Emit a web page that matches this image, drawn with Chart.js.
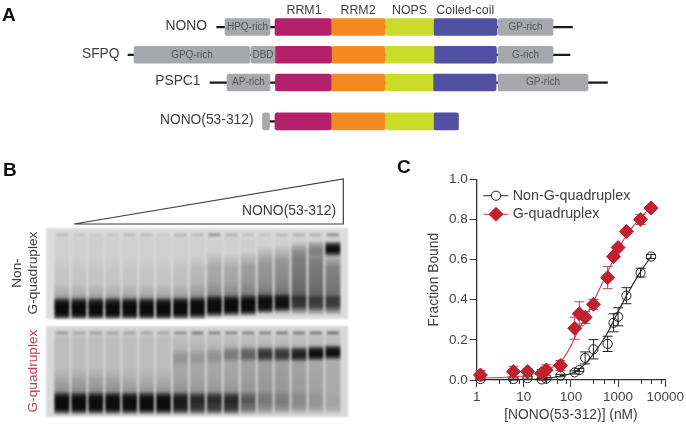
<!DOCTYPE html>
<html>
<head>
<meta charset="utf-8">
<title>NONO(53-312) binding</title>
<script src="https://cdn.jsdelivr.net/npm/chart.js@4/dist/chart.umd.js"></script>
<style>
  html, body { margin: 0; padding: 0; background: #fff; overflow: hidden; }
  #page { position: relative; width: 686px; height: 424px; font-family: "Liberation Sans", Arial, sans-serif; filter: blur(0.4px); }
  canvas { position: absolute; }
  .txt { position: absolute; white-space: nowrap; color: #3d3d3d; line-height: 1; }
  .letter { font-weight: bold; font-size: 19px; color: #111; }
  .rot { transform: translate(-50%, -50%) rotate(-90deg); font-size: 13.7px; }
  #gelTop, #gelBottom { filter: blur(1.2px); }
  #gelTop { background: #dcdcdc; }
  #gelBottom { background: #d8d8d8; }
</style>
</head>
<body>
<div id="page">
  <canvas id="domains" width="686" height="140" style="left:0;top:0"></canvas>
  <canvas id="wedge" width="295" height="60" style="left:60px;top:170px"></canvas>
  <canvas id="gelTop" width="302" height="91" style="left:45.7px;top:227.7px"></canvas>
  <canvas id="gelBottom" width="302" height="91" style="left:45.7px;top:325.7px"></canvas>
  <canvas id="binding" width="286" height="264" style="left:400px;top:160px"></canvas>
  <div class="txt letter" style="left:2px;top:5px">A</div>
  <div class="txt letter" style="left:3px;top:160px">B</div>
  <div class="txt letter" style="left:397px;top:157px">C</div>
  <div class="txt" style="left:242px;top:204px;font-size:13.9px">NONO(53-312)</div>
  <div class="txt rot" style="left:16.7px;top:273px">Non-</div>
  <div class="txt rot" style="left:33px;top:273px">G-quadruplex</div>
  <div class="txt rot" style="left:33px;top:371px;color:#c23a4b">G-quadruplex</div>
</div>
<script>
// panel A: domain spans per protein, in diagram units
const proteins = ['NONO', 'SFPQ', 'PSPC1', 'NONO(53-312)'];
const proteinRows = [1, 2, 3, 4.4];
const backbone = [[216.7, 572.5], [128, 570], [210, 607.5], [269.5, 275]];
const nTerm = [[225, 270], [134, 250], [227, 270], [262.5, 269.5]];
const dbd = [null, [251, 275], null, null];
const rrm1 = [[275, 331], [275, 331.5], [275.5, 331], [275, 331]];
const rrm2 = [[331, 385], [331.5, 385], [331, 385], [331, 385]];
const nops = [[385.5, 433.5], [385.5, 434], [385.5, 433], [385.5, 433.5]];
const coil = [[433.5, 497], [434, 496.5], [433, 496], [433.5, 458.5]];
const cTerm = [[498, 553], [498, 553], [498, 588], null];
const nTermNames = ['HPQ-rich', 'GPQ-rich', 'AP-rich', ''];
const cTermNames = ['GP-rich', 'G-rich', 'GP-rich', ''];
const domainTitles = ['RRM1', 'RRM2', 'NOPS', 'Coiled-coil'];

// panel B: band strengths per lane
const lanes = ['1', '2', '3', '4', '5', '6', '7', '8', '9', '10', '11', '12', '13', '14', '15', '16', '17'];
const topFreePos = [89, 89, 89, 89, 89, 89, 89, 88.5, 88, 86, 85.5, 85, 83, 82, 81, 81, 81];
const topFreeWidth = [13, 13, 13, 13, 13, 13, 13, 13, 13, 12.5, 12, 12, 11, 10, 8, 8, 8];
const topFreeDark = [1, 1, 1, 1, 1, 1, 1, 1, 1, 1, 1, 1, 0.97, 0.95, 0.55, 0.45, 0.5];
const topSmearFrom = [30, 30, 30, 30, 30, 30, 30, 30, 30, 25, 28, 25, 20, 18, 14, 15, 25];
const topSmearDark = [0.07, 0.07, 0.07, 0.07, 0.07, 0.07, 0.07, 0.1, 0.16, 0.26, 0.26, 0.34, 0.38, 0.42, 0.56, 0.56, 0.52];
const topNearDark = [0.55, 0.55, 0.55, 0.55, 0.55, 0.55, 0.55, 0.55, 0.6, 0.55, 0.55, 0.5, 0.45, 0.35, 0.2, 0.1, 0.1];
const topUpperDark = [0, 0, 0, 0, 0, 0, 0, 0, 0, 0, 0, 0, 0, 0, 0.1, 0.25, 1];
const topUpperPos = [23, 23, 23, 23, 23, 23, 23, 23, 23, 23, 23, 23, 23, 23, 25, 23, 23];
const topWellDark = [0.18, 0.1, 0.08, 0.1, 0.18, 0.18, 0.08, 0.2, 0.18, 0.4, 0.22, 0.14, 0.12, 0.2, 0.22, 0.22, 0.45];

const botFreePos = [85, 85, 85, 85, 85, 85, 85, 85, 85, 85, 85, 85, 85, 85, 85, 85, 85];
const botFreeWidth = [13, 13, 13, 13, 13, 13, 13, 13, 13, 13, 13, 13, 14, 14, 14, 14, 14];
const botFreeDark = [1, 1, 1, 1, 1, 1, 1, 0.88, 0.75, 0.72, 0.75, 0.35, 0.15, 0.12, 0.08, 0.05, 0.02];
const botSmearFrom = [45, 45, 45, 45, 45, 45, 45, 15, 15, 15, 15, 15, 15, 15, 15, 15, 15];
const botSmearDark = [0.14, 0.16, 0.16, 0.16, 0.1, 0.1, 0.1, 0.16, 0.16, 0.16, 0.16, 0.2, 0.22, 0.22, 0.2, 0.16, 0.12];
const botNearDark = [0.5, 0.45, 0.45, 0.45, 0.45, 0.45, 0.45, 0.35, 0.3, 0.3, 0.3, 0.2, 0.1, 0.08, 0.05, 0.03, 0];
const botUpperDark = [0, 0, 0, 0, 0, 0, 0, 0.12, 0.1, 0.14, 0.3, 0.45, 0.72, 0.7, 0.88, 1, 1];
const botUpperPos = [31, 31, 31, 31, 31, 31, 31, 35, 35, 33, 31, 31, 31, 31, 31, 30, 29];
const botWellDark = [0.3, 0.25, 0.3, 0.25, 0.25, 0.25, 0.25, 0.4, 0.5, 0.45, 0.45, 0.45, 0.45, 0.5, 0.5, 0.55, 0.6];

// wedge above the gels
const wedgeX = [0, 1, 1, 0];
const wedgeY = [0, 1, 0, 0];

// panel C: binding data
const conc = [1.2, 6, 12, 24, 30, 60, 120, 150, 200, 300, 600, 800, 1000, 1500, 3000, 5000];
const nonG = [0.005, 0.005, 0.01, 0.003, 0.007, 0.022, 0.038, 0.05, 0.11, 0.153, 0.18, 0.285, 0.315, 0.42, 0.535, 0.615];
const nonGErr = [0.006, 0.006, 0.006, 0.006, 0.006, 0.006, 0.008, 0.008, 0.03, 0.048, 0.038, 0.045, 0.045, 0.04, 0.022, 0.01];
const gq = [0.025, 0.042, 0.042, 0.033, 0.05, 0.072, 0.258, 0.33, 0.312, 0.377, 0.51, 0.615, 0.66, 0.74, 0.80, 0.857];
const gqErr = [0.022, 0.026, 0.016, 0.02, 0.026, 0.025, 0.055, 0.06, 0.03, 0.025, 0.055, 0.01, 0.01, 0.01, 0.025, 0.005];
const nonGFitX = [1, 10, 24, 60, 120, 200, 300, 600, 800, 1000, 1500, 3000, 5000];
const nonGFitY = [0.002, 0.003, 0.006, 0.02, 0.04, 0.08, 0.13, 0.235, 0.295, 0.34, 0.42, 0.54, 0.615];
const gqFitX = [1, 10, 30, 60, 100, 120, 200, 300, 500, 800, 1000, 1500, 3000, 5000];
const gqFitY = [0.01, 0.02, 0.05, 0.09, 0.17, 0.21, 0.31, 0.39, 0.5, 0.6, 0.65, 0.72, 0.81, 0.86];
const xMajor = [1, 10, 100, 1000, 10000];
const xMinor = [3, 5, 8, 30, 50, 80, 300, 500, 800, 3000, 5000, 8000];
const legendNames = ['Non-G-quadruplex', 'G-quadruplex'];

const FONT = '"Liberation Sans", Arial, sans-serif';
const RED = '#c0202f';

const span = (list) => list.map((v, i) => v && ({ x: v, y: proteinRows[i] })).filter(Boolean);
const domainBar = (label, list, color, thick) => ({
  label, data: span(list), backgroundColor: color, barThickness: thick || 17, grouped: false,
  borderRadius: thick ? 0 : 2, borderSkipped: false
});

const diagramText = {
  id: 'diagramText',
  afterDatasetsDraw(chart) {
    const { ctx, scales: { x, y } } = chart;
    ctx.save();
    ctx.textBaseline = 'middle';
    // row names, right aligned against each backbone start
    ctx.font = '13.8px ' + FONT;
    ctx.fillStyle = '#3d3d3d';
    ctx.textAlign = 'right';
    const nameEnds = [207, 119.5, 200.5, 253.5];
    proteins.forEach((p, i) => ctx.fillText(p, x.getPixelForValue(nameEnds[i]), y.getPixelForValue(proteinRows[i]) - 1));
    // domain titles above first row
    ctx.font = '12.4px ' + FONT;
    ctx.textAlign = 'center';
    [rrm1[0], rrm2[0], nops[0], coil[0]].forEach((s, i) => {
      ctx.fillText(domainTitles[i], x.getPixelForValue((s[0] + s[1]) / 2) + (i === 0 ? 1 : 0), 10.5);
    });
    // labels in the grey boxes
    ctx.font = '10px ' + FONT;
    ctx.fillStyle = '#55565a';
    nTermNames.forEach((n, i) => {
      if (n) ctx.fillText(n, x.getPixelForValue((nTerm[i][0] + nTerm[i][1]) / 2), y.getPixelForValue(proteinRows[i]));
    });
    cTermNames.forEach((n, i) => {
      if (n) ctx.fillText(n, x.getPixelForValue((cTerm[i][0] + cTerm[i][1]) / 2), y.getPixelForValue(proteinRows[i]));
    });
    ctx.fillText('DBD', x.getPixelForValue((dbd[1][0] + dbd[1][1]) / 2), y.getPixelForValue(proteinRows[1]));
    ctx.restore();
  }
};

new Chart(document.getElementById('domains'), {
  type: 'bar',
  data: {
    datasets: [
      domainBar('N-term', nTerm, '#a7a8ab'),
      domainBar('DBD', dbd, '#a7a8ab'),
      domainBar('RRM1', rrm1, '#b5206a'),
      domainBar('RRM2', rrm2, '#f58a20'),
      domainBar('NOPS', nops, '#cbdb2a'),
      domainBar('Coiled-coil', coil, '#5150a2'),
      domainBar('C-term', cTerm, '#a7a8ab'),
      domainBar('backbone', backbone, '#1a1a1a', 1.6)
    ]
  },
  options: {
    indexAxis: 'y',
    responsive: false,
    animation: false,
    plugins: { legend: { display: false }, tooltip: { enabled: false } },
    scales: {
      x: { type: 'linear', min: 0, max: 686, display: false },
      y: { type: 'linear', min: 0.027, max: 5.07, reverse: true, display: false, offset: false }
    }
  },
  plugins: [diagramText]
});

new Chart(document.getElementById('wedge'), {
  type: 'scatter',
  data: {
    datasets: [{
      data: wedgeX.map((x, i) => ({ x, y: wedgeY[i] })),
      showLine: true, borderColor: '#3f3f3f', borderWidth: 1.2, pointRadius: 0, clip: false
    }]
  },
  options: {
    responsive: false,
    animation: false,
    layout: { padding: { left: 14, right: 11.7, top: 9, bottom: 6 } },
    plugins: { legend: { display: false }, tooltip: { enabled: false } },
    scales: {
      x: { type: 'linear', min: 0, max: 1, display: false },
      y: { type: 'linear', min: 0, max: 1, display: false }
    }
  }
});

// vertical fade for a floating bar; stops are [offset, share of the lane's darkness]
function laneFill(darkness, stops) {
  return (c) => {
    const raw = c.raw;
    const a = darkness[c.dataIndex];
    if (!raw || !a || !c.chart.chartArea) return 'rgba(0,0,0,0)';
    const yS = c.chart.scales.y;
    const y0 = yS.getPixelForValue(raw[0]);
    const y1 = yS.getPixelForValue(raw[1]);
    if (!isFinite(y0) || !isFinite(y1)) return 'rgba(0,0,0,0)';
    const g = c.chart.ctx.createLinearGradient(0, y0, 0, y1);
    stops.forEach(([o, s]) => g.addColorStop(o, 'rgba(12,12,12,' + (a * s) + ')'));
    return g;
  };
}

function gelChart(id, g) {
  const layer = (label, data, darkness, stops, width) => ({
    label, data, backgroundColor: laneFill(darkness, stops), grouped: false,
    barPercentage: width || 0.88, categoryPercentage: 1, borderWidth: 0
  });
  const laneTint = lanes.map(() => g.tint);
  new Chart(document.getElementById(id), {
    type: 'bar',
    data: {
      labels: lanes,
      datasets: [
        layer('free', g.freePos.map((p, i) => [p - g.freeWidth[i], p + g.freeWidth[i]]), g.freeDark,
          [[0, 0], [0.18, 0.8], [0.32, 1], [0.72, 1], [0.88, 0.55], [1, 0]]),
        layer('upper', g.upperPos.map((p) => [p - 9, p + 9]), g.upperDark,
          [[0, 0], [0.25, 0.85], [0.45, 1], [0.65, 1], [0.82, 0.6], [1, 0]]),
        layer('well', lanes.map(() => [5, 10]), g.wellDark, [[0, 0], [0.5, 1], [1, 0]], 0.7),
        layer('near', g.freePos.map((p, i) => [p - g.freeWidth[i] - 16, p]), g.nearDark,
          [[0, 0], [0.45, 0.25], [0.8, 0.85], [1, 1]]),
        layer('smear', g.smearFrom.map((f) => [f, 96]), g.smearDark,
          [[0, 0], [0.25, 0.75], [0.9, 1], [1, 0]]),
        layer('tint', lanes.map(() => [3, 97]), laneTint, [[0, 0.1], [0.12, 1], [0.95, 1], [1, 0]], 0.9)
      ]
    },
    options: {
      responsive: false,
      animation: false,
      layout: { padding: { left: 7.5, right: 6.7 } },
      plugins: { legend: { display: false }, tooltip: { enabled: false } },
      scales: {
        x: { display: false, grid: { display: false } },
        y: { type: 'linear', min: 0, max: 100, reverse: true, display: false }
      }
    }
  });
}

gelChart('gelTop', {
  freePos: topFreePos, freeWidth: topFreeWidth, freeDark: topFreeDark, smearFrom: topSmearFrom,
  smearDark: topSmearDark, nearDark: topNearDark, upperDark: topUpperDark, upperPos: topUpperPos,
  wellDark: topWellDark, tint: 0.06
});
gelChart('gelBottom', {
  freePos: botFreePos, freeWidth: botFreeWidth, freeDark: botFreeDark, smearFrom: botSmearFrom,
  smearDark: botSmearDark, nearDark: botNearDark, upperDark: botUpperDark, upperPos: botUpperPos,
  wellDark: botWellDark, tint: 0.13
});

// error bars, minor ticks and the hand placed legend of panel C
const bindingExtras = {
  id: 'bindingExtras',
  beforeDatasetsDraw(chart) {
    const { ctx, scales: { x, y } } = chart;
    const whiskers = (vals, errs, color) => {
      ctx.strokeStyle = color;
      ctx.lineWidth = 1;
      conc.forEach((c, i) => {
        const px = x.getPixelForValue(c);
        const hi = y.getPixelForValue(vals[i] + errs[i]);
        const lo = y.getPixelForValue(Math.max(vals[i] - errs[i], 0));
        ctx.beginPath();
        ctx.moveTo(px, hi); ctx.lineTo(px, lo);
        ctx.moveTo(px - 5, hi); ctx.lineTo(px + 5, hi);
        ctx.moveTo(px - 5, lo); ctx.lineTo(px + 5, lo);
        ctx.stroke();
      });
    };
    ctx.save();
    whiskers(nonG, nonGErr, '#222');
    whiskers(gq, gqErr, '#c8404f');
    ctx.restore();
  },
  afterDraw(chart) {
    const { ctx, scales: { x, y } } = chart;
    ctx.save();
    ctx.strokeStyle = '#333';
    ctx.lineWidth = 1;
    xMinor.forEach((v) => {
      const px = Math.round(x.getPixelForValue(v)) + 0.5;
      ctx.beginPath();
      ctx.moveTo(px, y.bottom);
      ctx.lineTo(px, y.bottom + 4);
      ctx.stroke();
    });
    const rows = [35.7, 54.3];
    ctx.font = '14.3px ' + FONT;
    ctx.textBaseline = 'middle';
    ctx.fillStyle = '#404040';
    legendNames.forEach((n, i) => ctx.fillText(n, 112.7, rows[i]));
    ctx.strokeStyle = '#222';
    ctx.beginPath(); ctx.moveTo(83.3, rows[0]); ctx.lineTo(108.3, rows[0]); ctx.stroke();
    ctx.strokeStyle = '#c8404f';
    ctx.beginPath(); ctx.moveTo(83.3, rows[1]); ctx.lineTo(108.3, rows[1]); ctx.stroke();
    ctx.strokeStyle = '#222';
    ctx.fillStyle = '#fff';
    Chart.helpers.drawPoint(ctx, { pointStyle: 'circle', radius: 4.6, borderWidth: 1 }, 96, rows[0]);
    ctx.strokeStyle = RED;
    ctx.fillStyle = RED;
    Chart.helpers.drawPoint(ctx, { pointStyle: 'rectRot', radius: 7, borderWidth: 1 }, 96, rows[1]);
    ctx.restore();
  }
};

new Chart(document.getElementById('binding'), {
  type: 'scatter',
  data: {
    datasets: [
      {
        label: 'G-quadruplex', data: conc.map((x, i) => ({ x, y: gq[i] })),
        pointStyle: 'rectRot', pointRadius: 7, backgroundColor: RED, borderColor: RED, borderWidth: 1, clip: false
      },
      {
        label: 'G-quadruplex fit', data: gqFitX.map((x, i) => ({ x, y: gqFitY[i] })), showLine: true,
        cubicInterpolationMode: 'monotone', pointRadius: 0, borderColor: '#c8404f', borderWidth: 1.1
      },
      {
        label: 'Non-G-quadruplex', data: conc.map((x, i) => ({ x, y: nonG[i] })),
        pointStyle: 'circle', pointRadius: 4.6, backgroundColor: 'rgba(0,0,0,0)', borderColor: '#222', borderWidth: 1, clip: false
      },
      {
        label: 'Non-G-quadruplex fit', data: nonGFitX.map((x, i) => ({ x, y: nonGFitY[i] })), showLine: true,
        cubicInterpolationMode: 'monotone', pointRadius: 0, borderColor: '#222', borderWidth: 1.1
      }
    ]
  },
  options: {
    responsive: false,
    animation: false,
    layout: { padding: { top: 19.3, right: 20, left: 0, bottom: 0 } },
    plugins: { legend: { display: false }, tooltip: { enabled: false } },
    scales: {
      x: {
        type: 'logarithmic', min: 1, max: 10000,
        afterBuildTicks: (s) => { s.ticks = xMajor.map((value) => ({ value })); },
        afterFit: (s) => { s.height = 44; },
        grid: { drawOnChartArea: false, tickLength: 7, tickColor: '#333', tickWidth: 1 },
        border: { color: '#333', width: 1.3 },
        ticks: { callback: (v) => String(v), autoSkip: false, maxRotation: 0, color: '#454545', padding: 2, font: { family: FONT, size: 13.5 } },
        title: { display: true, text: '[NONO(53-312)] (nM)', color: '#404040', padding: { top: 0, bottom: 0.3 }, font: { family: FONT, size: 13.8 } }
      },
      y: {
        min: 0, max: 1,
        afterFit: (s) => { s.width = 76.7; },
        grid: { drawOnChartArea: false, tickLength: 7, tickColor: '#333', tickWidth: 1 },
        border: { color: '#333', width: 1.3 },
        ticks: { stepSize: 0.2, callback: (v) => v.toFixed(1), color: '#454545', padding: 2, font: { family: FONT, size: 13.5 } },
        title: { display: true, text: 'Fraction Bound', color: '#404040', padding: { top: 26, bottom: 0 }, font: { family: FONT, size: 13.8 } }
      }
    }
  },
  plugins: [bindingExtras]
});
</script>
</body>
</html>
